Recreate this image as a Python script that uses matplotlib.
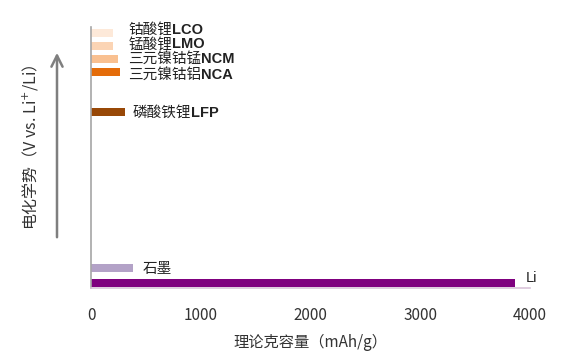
import matplotlib.pyplot as plt
from matplotlib.patches import FancyArrowPatch

plt.rcParams['font.family'] = ['Noto Sans CJK SC', 'DejaVu Sans']

# materials, capacity (mAh/g), relative potential position
names_cn = ['钴酸锂', '锰酸锂', '三元镍钴锰', '三元镍钴铝', '磷酸铁锂', '石墨', '']
names_en = ['LCO', 'LMO', 'NCM', 'NCA', 'LFP', '', 'Li']
capacity = [200, 200, 245, 265, 310, 380, 3860]
potential = [4.40, 4.17, 3.95, 3.72, 3.03, 0.345, 0.086]
colors = ['#fde9d9', '#fbd4b4', '#f9c090', '#e46c0a', '#984807', '#b3a2c7', '#7f007f']

fig = plt.figure(figsize=(5.78, 3.59), dpi=100)
ax = fig.add_axes([91/578, 1-288/359, (530-91)/578, (288-27)/359])

ax.barh(potential, capacity, height=0.13, color=colors)

# labels next to the bars: chinese part normal, latin part bold
lab_x = [340, 340, 340, 340, 380, 470, 3960]
lab_y = [4.45, 4.20, 3.95, 3.68, 3.02, 0.33, 0.17]
for cn, en, x, y in zip(names_cn, names_en, lab_x, lab_y):
    t = ax.text(x, y, cn, fontsize=10.5, va='center', ha='left', color='#222222')
    if en:
        if cn:
            ax.annotate(en, xycoords=t, xy=(1, 0.5), va='center', ha='left',
                        fontsize=10.5, fontweight='bold', color='#222222',
                        family=['Liberation Sans', 'DejaVu Sans'])
        else:
            ax.text(x, y, en, fontsize=10.5, va='center', ha='left', color='#222222',
                    family=['Liberation Sans', 'DejaVu Sans'])

ax.set_xlim(0, 4000)
ax.set_ylim(0, 4.5)
ax.set_xticks([0, 1000, 2000, 3000, 4000])
ax.set_yticks([])
ax.tick_params(axis='x', length=0, pad=14, labelsize=11, colors='#333333')
for s in ['top', 'right']:
    ax.spines[s].set_visible(False)
ax.spines['left'].set_color('#a6a6a6')
ax.spines['bottom'].set_color('#d9c3d9')
ax.spines['left'].set_linewidth(1.2)
ax.spines['bottom'].set_linewidth(1.2)

ax.set_xlabel('理论克容量（mAh/g）', fontsize=11, color='#333333', labelpad=7)

# potential arrow and label at left
arrow = FancyArrowPatch((57/578, 1-240/359), (57/578, 1-50/359), transform=fig.transFigure,
                        arrowstyle='->,head_width=4,head_length=8', color='#7f7f7f', lw=1.8)
fig.patches.append(arrow)
fig.text(30/578, 1-147/359, '电化学势（V vs. Li$^{+}$/Li）', rotation=90, fontsize=11.5,
         va='center', ha='center', color='#333333')

fig.savefig('out.png', dpi=100)
